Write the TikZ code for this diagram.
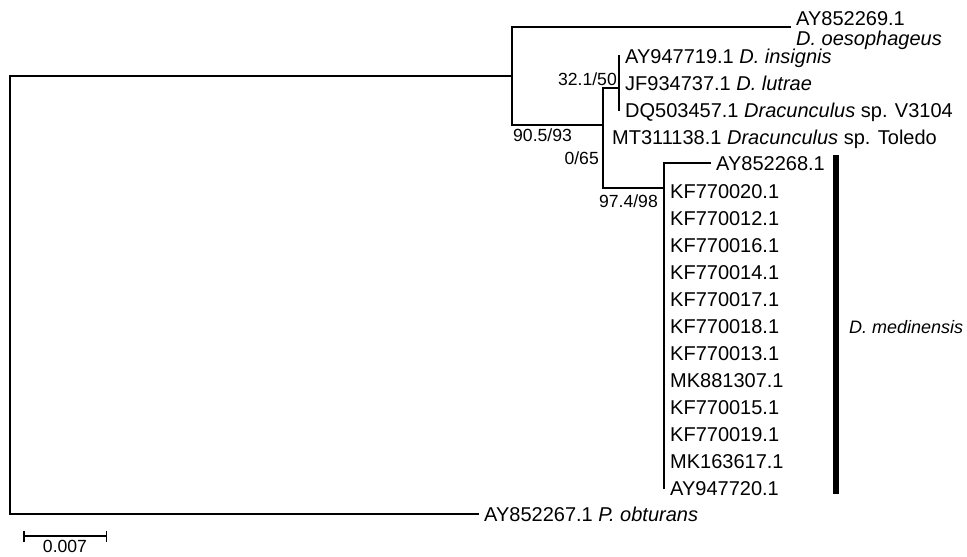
\documentclass[tikz,border=0pt]{standalone}
\usepackage{fontspec}
\setmainfont{Liberation Sans}
\usetikzlibrary{arrows.meta,positioning}
\newcommand\leaffont{\fontsize{20pt}{22pt}\selectfont}
\newcommand\bootfont{\fontsize{17.6pt}{19pt}\selectfont}

\begin{document}
\begin{tikzpicture}[
    x=1pt, y=-1pt,
    branch/.style={line width=1.5pt, line cap=rect},
    leaf/.style={anchor=west, inner xsep=6pt, inner ysep=0pt, text height=14.3pt, text depth=0pt, font=\leaffont},
    boot/.style={inner sep=0pt, text height=12.6pt, text depth=0pt, font=\bootfont},
    clade/.style={line width=5.5pt},
    scalebar/.style={line width=1.5pt, {Bar[width=11pt]}-{Bar[width=11pt]}}
]
\useasboundingbox (0,0) rectangle (967,557);

% Internal nodes
\coordinate (root) at (10,296);
\coordinate (nTop) at (512,76);
\coordinate (nDrac) at (603,125);
\coordinate (nIns) at (619,88);
\coordinate (nMT) at (603,162);
\coordinate (nMed) at (664,188);
\coordinate (tOes) at (790,27);

% Leaves
\node[leaf, anchor=base west] (oes) at (790,25) {AY852269.1};
\node[leaf, anchor=base west] (oesSp) at (790,45) {\textit{D. oesophageus}};
\node[leaf] (ins) at (619,56) {AY947719.1 \textit{D. insignis}};
\node[leaf] (lut) at (619,83) {JF934737.1 \textit{D. lutrae}};
\node[leaf] (dq) at (619,110) {DQ503457.1 \textit{Dracunculus} sp. V3104};
\node[leaf] (mt) at (606,137) {MT311138.1 \textit{Dracunculus} sp. Toledo};
\node[leaf] (a68) at (710,163) {AY852268.1};
\node[leaf] (k20) at (664,191) {KF770020.1};
\node[leaf] (k12) at (664,218) {KF770012.1};
\node[leaf] (k16) at (664,245) {KF770016.1};
\node[leaf] (k14) at (664,272) {KF770014.1};
\node[leaf] (k17) at (664,299) {KF770017.1};
\node[leaf] (k18) at (664,326) {KF770018.1};
\node[leaf] (k13) at (664,353) {KF770013.1};
\node[leaf] (m07) at (664,380) {MK881307.1};
\node[leaf] (k15) at (664,407) {KF770015.1};
\node[leaf] (k19) at (664,434) {KF770019.1};
\node[leaf] (m17) at (664,461) {MK163617.1};
\node[leaf] (a720) at (664,488) {AY947720.1};
\node[leaf] (obt) at (478,514) {AY852267.1 \textit{P. obturans}};

% Branches
\draw[branch] (nTop) -| (root) |- (obt.west);
\draw[branch] (tOes) -| (nTop) |- (nDrac);
\draw[branch] (nIns) -| (nDrac) -- (nMT) |- (nMed);
\draw[branch] (ins.west) -- (dq.west);
\draw[branch] (a68.west) -| (nMed) -- (a720.west);

% Support values
\node[boot, above left=2pt and 2pt of nIns] (bIns) {32.1/50};
\node[boot, anchor=north west] (bDrac) at (513,129) {90.5/93};
\node[boot, anchor=south east] (bMT) at (599,165) {0/65};
\node[boot, below left=7pt and 6pt of nMed] (bMed) {97.4/98};

% Clade bar
\coordinate (barTop) at (836,155);
\coordinate (barBot) at (836,494);
\draw[clade] (barTop) -- (barBot);
\node[boot, anchor=west, font=\fontsize{18pt}{20pt}\selectfont] (med) at (849,327) {\textit{D. medinensis}};

% Scale
\coordinate (sL) at (23,536);
\coordinate (sR) at (107,536);
\coordinate (sMid) at (65,536);
\draw[scalebar] (sL) -- (sR);
\node[boot, below=4pt of sMid] (scl) {0.007};
\end{tikzpicture}
\end{document}
